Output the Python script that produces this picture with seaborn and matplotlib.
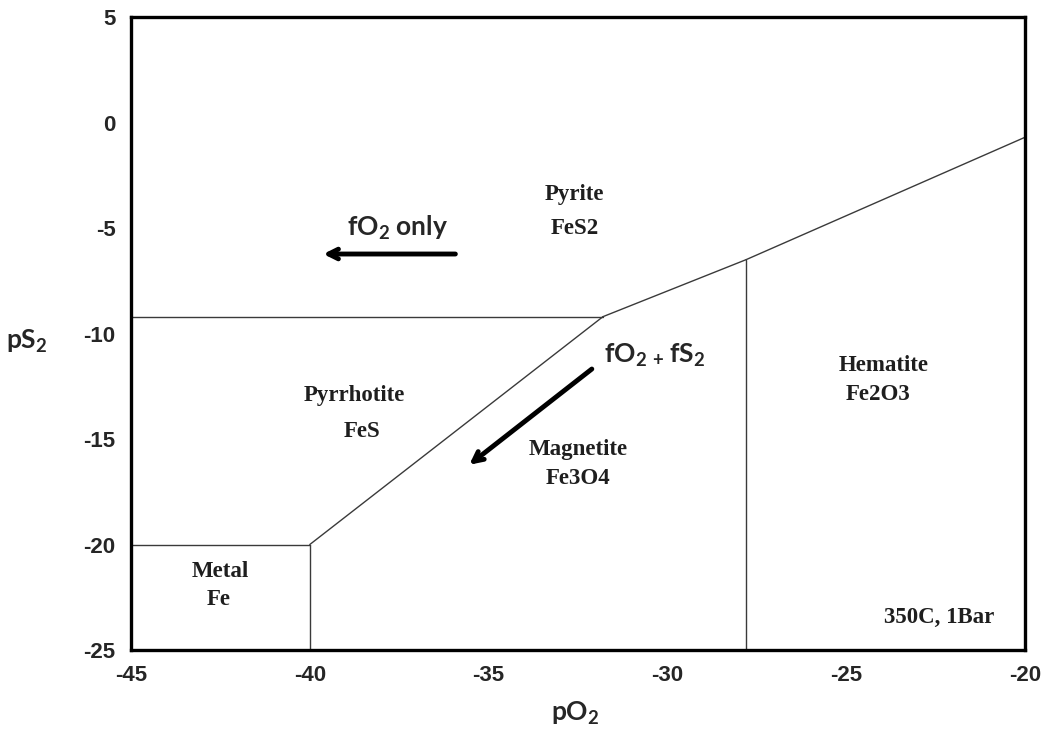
import matplotlib
matplotlib.use("Agg")
import matplotlib.pyplot as plt
import seaborn as sns
import pandas as pd

# phase boundary segments (pO2, pS2)
seg_names = ["pyrite_pyrrhotite", "pyrite_magnetite", "pyrite_hematite", "magnetite_hematite",
             "pyrrhotite_magnetite", "metal_pyrrhotite", "metal_magnetite"]
seg_x0 = [-45.0, -31.8, -27.8, -27.8, -31.8, -45.0, -40.0]
seg_y0 = [-9.2, -9.2, -6.5, -6.5, -9.2, -20.0, -20.0]
seg_x1 = [-31.8, -27.8, -20.0, -27.8, -40.0, -40.0, -40.0]
seg_y1 = [-9.2, -6.5, -0.7, -25.0, -20.0, -20.0, -25.0]

# field labels, one entry per line of text
field_text = ["Pyrite", "FeS2", "Pyrrhotite", "FeS", "Magnetite", "Fe3O4",
              "Hematite", "Fe2O3", "Metal", "Fe", "350C, 1Bar"]
field_x = [-32.6, -32.6, -38.75, -38.55, -32.5, -32.5, -23.95, -24.1, -42.5, -42.55, -22.4]
field_y = [-3.4, -5.0, -12.95, -14.65, -15.5, -16.85, -11.5, -12.9, -21.3, -22.6, -23.45]

rows = []
for n, x0, y0, x1, y1 in zip(seg_names, seg_x0, seg_y0, seg_x1, seg_y1):
    rows.append({"seg": n, "pO2": x0, "pS2": y0})
    rows.append({"seg": n, "pO2": x1, "pS2": y1})
df = pd.DataFrame(rows)

sns.set_style("white")
plt.rcParams['font.family'] = ['Liberation Sans', 'DejaVu Sans']
plt.rcParams['axes.unicode_minus'] = False
plt.rcParams['mathtext.fontset'] = 'custom'
plt.rcParams['mathtext.rm'] = 'Lato:bold'
plt.rcParams['mathtext.it'] = 'Lato:bold'
plt.rcParams['mathtext.bf'] = 'Lato:bold'

fig = plt.figure(figsize=(10.43, 7.36), dpi=100)
ax = fig.add_axes([0.1256, 0.1168, 0.857, 0.86])

sns.lineplot(data=df, x="pO2", y="pS2", units="seg", estimator=None, sort=False,
             color="#3a3a3a", linewidth=1.0, ax=ax)

for t, x, y in zip(field_text, field_x, field_y):
    ax.text(x, y, t, ha="center", va="center", fontsize=16.5, fontweight="bold",
            family=["Liberation Serif", "DejaVu Serif"], color="#1e1e1e")

# arrows
ax.annotate("", xy=(-39.7, -6.23), xytext=(-35.85, -6.23),
            arrowprops=dict(arrowstyle="->,head_length=0.7,head_width=0.35", lw=3.5, color="black"))
ax.annotate("", xy=(-35.6, -16.3), xytext=(-32.05, -11.6),
            arrowprops=dict(arrowstyle="->,head_length=0.7,head_width=0.35", lw=3.5, color="black"))
ax.text(-37.55, -5.0, r"fO$_2$ only", ha="center", va="center", fontsize=19, fontweight="bold",
        family=["Lato", "DejaVu Sans"])
ax.text(-30.35, -11.05, r"fO$_2$$_{\,+\,}$fS$_2$", ha="center", va="center", fontsize=19,
        fontweight="bold", family=["Lato", "DejaVu Sans"])

ax.set_xlim(-45, -20)
ax.set_ylim(-25, 5)
ax.set_xticks([-45, -40, -35, -30, -25, -20])
ax.set_yticks([5, 0, -5, -10, -15, -20, -25])
ax.tick_params(direction="in", length=5, width=1, color="#999999", labelsize=16, pad=11)
for lab in ax.get_xticklabels() + ax.get_yticklabels():
    lab.set_fontweight("bold")
for sp in ax.spines.values():
    sp.set_visible(True)
    sp.set_linewidth(2.4)
    sp.set_color("black")

ax.set_xlabel(r"pO$_2$", fontsize=19, fontweight="bold", family=["Lato", "DejaVu Sans"], va="center")
ax.set_ylabel(r"pS$_2$", fontsize=19, fontweight="bold", family=["Lato", "DejaVu Sans"],
              rotation=0, va="center")
ax.xaxis.set_label_coords(0.497, -0.1)
ax.yaxis.set_label_coords(-0.117, 0.487)

fig.savefig("out.png", dpi=100)
